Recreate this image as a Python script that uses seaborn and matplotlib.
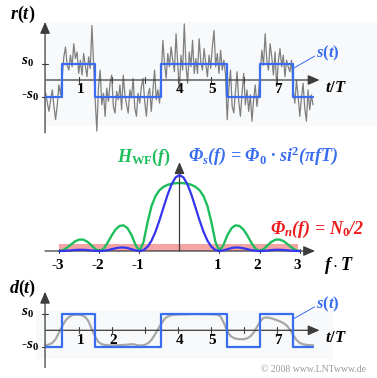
import numpy as np
import matplotlib
matplotlib.use("Agg")
import matplotlib.pyplot as plt
from matplotlib.patches import Rectangle
import seaborn as sns

# --- data ----------------------------------------------------------------
# s(t): bit boundaries (in T) and levels (in s0)
bit_edges = [0.0, 0.5, 1.5, 3.5, 5.5, 6.5, 7.5, 8.1]
bit_values = [-1, 1, -1, 1, -1, 1, -1]

# r(t) = s(t) + noise, sampled every 0.05 T
r_values = [
    -0.8, -1.4, -1.9, -1.2, -0.6, -1.6, -2.4, -1.5, -0.3, -0.9,
    0.2, 1.4, 2.0, 0.9, 0.6, 1.5, 0.8, 2.2, 1.3, 1.7,
    0.4, 1.2, 0.3, 1.6, 0.9, 0.2, 1.4, 0.7, 3.3, 1.0,
    -1.2, -3.1, -0.4, 0.6, -1.5, -0.8, -2.2, -0.5, -1.3, -0.2,
    0.3, -1.6, -2.0, -0.7, -1.2, -0.3, -1.8, 0.3, -0.9, -1.5,
    -2.0, -0.6, -1.1, 0.1, -1.7, -2.2, -0.8, -1.4, -0.4, 0.1,
    -1.3, -2.2, -0.9, -0.5, -1.9, -0.6, 0.6, -1.2, -0.6, -1.4,
    0.3, 2.4, 1.0, 0.1, 1.6, 0.8, 2.0, 1.2, 0.5, 2.8,
    1.0, -0.6, 1.5, 0.6, 3.4, 0.9, -0.2, 1.7, 0.8, 2.4,
    0.4, 1.3, 0.4, 2.5, 1.1, 0.6, 1.9, 1.0, 0.2, 1.5,
    0.7, 2.0, 3.0, 0.8, 1.6, 0.4, 1.8, 0.6, 1.2, 0.3,
    -2.4, -0.5, 0.6, -1.6, -2.0, -0.7, 0.5, -1.3, -2.2, -0.8,
    0.4, -1.5, -0.6, -1.9, -0.9, -2.5, -1.2, -0.3, -1.6, -0.8,
    0.5, 1.8, 0.9, 2.8, 1.2, 0.6, 2.2, 1.4, 0.3, 1.7,
    -0.4, 1.1, 1.9, 0.8, 1.5, 0.2, 1.2, 0.8, 0.5, 1.2,
    -0.6, -1.4, 0.0, -1.0, -2.2, -1.1, -0.2, -1.7, -2.5, -0.6,
    -1.8, -0.9, -1.5]

# d(t) after the Wiener filter, sampled every 0.1 T
d_values = [
    -0.92, -0.88, -0.78, -0.55, -0.15, 0.25, 0.60, 0.82, 0.93, 0.96,
    0.96, 0.92, 0.82, 0.55, 0.05, -0.40, -0.72, -0.86, -0.90, -0.92,
    -0.93, -0.93, -0.92, -0.91, -0.90, -0.88, -0.86, -0.88, -0.92, -0.94,
    -0.90, -0.80, -0.60, -0.30, 0.05, 0.40, 0.70, 0.86, 0.93, 0.96,
    0.97, 0.98, 0.98, 0.99, 1.00, 1.00, 1.00, 1.00, 1.00, 0.99,
    0.99, 0.98, 0.97, 0.85, 0.45, -0.05, -0.35, -0.48, -0.53, -0.55,
    -0.55, -0.50, -0.38, -0.15, 0.20, 0.55, 0.76, 0.80, 0.76, 0.70,
    0.63, 0.55, 0.45, 0.30, 0.05, -0.30, -0.60, -0.78, -0.86, -0.90,
    -0.92, -0.92]

# spectra for f*T = 0, 0.1, ..., 3 (symmetric in f)
phi_s_half = [1.0, 0.967, 0.875, 0.737, 0.573, 0.405, 0.255, 0.135, 0.055, 0.012,
              0.0, 0.008, 0.024, 0.039, 0.047, 0.045, 0.036, 0.023, 0.011, 0.003,
              0.0, 0.002, 0.007, 0.012, 0.016, 0.016, 0.014, 0.009, 0.005, 0.001, 0.0]
h_wf_half = [0.895, 0.892, 0.885, 0.870, 0.844, 0.800, 0.723, 0.590, 0.373, 0.116,
             0.0, 0.081, 0.211, 0.300, 0.338, 0.329, 0.282, 0.201, 0.106, 0.029,
             0.0, 0.024, 0.074, 0.121, 0.149, 0.151, 0.130, 0.091, 0.047, 0.013, 0.0]
phi_n_level = 0.09
phi_n_range = [-3.0, 2.95]

t_ticks = [1, 2, 3, 4, 5, 6, 7]
t_labels_top = {1: "1", 4: "4", 5: "5", 7: "7"}
t_labels_bottom = {1: "1", 2: "2", 4: "4", 5: "5", 7: "7"}
f_ticks = [-3, -2, -1, 1, 2, 3]

# --- style -----------------------------------------------------------------
sns.set_theme(style="white")
plt.rcParams.update({
    "font.family": ["Liberation Serif", "DejaVu Serif"],
    "font.weight": "bold",
    "mathtext.fontset": "custom",
    "mathtext.rm": "Liberation Serif:bold",
    "mathtext.it": "Liberation Serif:italic:bold",
    "mathtext.bf": "Liberation Serif:bold",
})

AXC = "#3c3c3c"
BLUE_S = "#3a6cf0"
BLUE_PHI = "#3535ee"
GREEN = "#1fbe5c"
RED = "#ee1c1c"
GRAY_N = "#6a6a6a"
GRAY_D = "#a8a8a8"

W, H = 377, 378
fig = plt.figure(figsize=(W / 100, H / 100), dpi=100)


def pix_axes(x0, y0, x1, y1, xo, xs, yo, ys):
    # axes covering a pixel box, data origin at (xo, yo), xs/ys pixels per unit
    ax = fig.add_axes([x0 / W, 1 - y1 / H, (x1 - x0) / W, (y1 - y0) / H])
    ax.set_xlim((x0 - xo) / xs, (x1 - xo) / xs)
    ax.set_ylim((yo - y1) / ys, (yo - y0) / ys)
    ax.axis("off")
    return ax


def arrow(ax, x0, y0, x1, y1):
    ax.annotate("", xy=(x1, y1), xytext=(x0, y0),
                arrowprops=dict(arrowstyle="-|>,head_length=0.7,head_width=0.3",
                                color=AXC, lw=0.9, shrinkA=0, shrinkB=0,
                                mutation_scale=10))


def step_xy(edges, vals):
    xs, ys = [], []
    for i, v in enumerate(vals):
        xs += [edges[i], edges[i + 1]]
        ys += [v, v]
    return xs, ys


def time_panel(ax, labels, y_lo, y_hi, bg):
    ax.add_patch(Rectangle(bg[0], bg[1], bg[2], color="#f7f9fb", lw=0, zorder=0))
    arrow(ax, 0.0, 0, 8.3, 0)
    arrow(ax, -0.02, y_lo, -0.02, y_hi)
    for tk in t_ticks:
        ax.plot([tk, tk], [-0.18, 0.18], color=AXC, lw=0.8)
    for lv in (1, -1):
        ax.plot([-0.12, 0.08], [lv, lv], color=AXC, lw=0.8)
    for tk, lab in labels.items():
        ax.text(tk + 0.05, -0.6, lab, ha="center", va="center", fontsize=11, color="black")
    ax.text(-0.35, 1.05, "$s_0$", ha="right", va="center", fontsize=11, color="black")
    ax.text(-0.2, -1.0, "-$s_0$", ha="right", va="center", fontsize=11, color="black")
    ax.text(8.8, -0.5, "$t/T$", ha="center", va="center", fontsize=12, color="black")
    sx, sy = step_xy(bit_edges, bit_values)
    sns.lineplot(x=sx, y=sy, ax=ax, color=BLUE_S, lw=1.6, estimator=None, sort=False, zorder=4)
    ax.plot([7.5, 8.15], [0.7, 1.45], color=BLUE_S, lw=0.7)
    ax.text(8.55, 1.6, "$s(t)$", ha="center", va="center", fontsize=12, color=BLUE_S)


# --- top: r(t) ---------------------------------------------------------------
ax1 = pix_axes(0, 0, W, 140, 45.7, 33.0, 80.0, 16.5)
t_r = np.round(np.arange(len(r_values)) * 0.05, 2)
sns.lineplot(x=t_r, y=r_values, ax=ax1, color=GRAY_N, lw=0.9, alpha=0.85, zorder=3)
time_panel(ax1, t_labels_top, -3.2, 3.52, ((-0.05, -2.8), 10.5, 6.3))
ax1.text(-0.7, 3.95, "$r(t)$", ha="center", va="center", fontsize=13, color="black")

# --- middle: spectra ---------------------------------------------------------
ax2 = pix_axes(0, 140, W, 280, 179.5, 40.0, 251.0, 76.0)
f_half = np.round(np.arange(len(phi_s_half)) * 0.1, 1)
f_all = np.concatenate([-f_half[::-1], f_half[1:]])
phi_s = phi_s_half[::-1] + phi_s_half[1:]
h_wf = h_wf_half[::-1] + h_wf_half[1:]
ax2.fill_between(phi_n_range, 0, phi_n_level, color="#f5a3a3", lw=0, zorder=1)
sns.lineplot(x=f_all, y=h_wf, ax=ax2, color=GREEN, lw=1.7, zorder=3)
sns.lineplot(x=f_all, y=phi_s, ax=ax2, color=BLUE_PHI, lw=1.6, zorder=4)
arrow(ax2, -3.36, 0, 3.39, 0)
arrow(ax2, 0, 0, 0, 1.17)
for fk in f_ticks:
    ax2.plot([fk, fk], [-0.03, 0.03], color=AXC, lw=0.8)
    ax2.text(fk - 0.05, -0.19, str(fk), ha="center", va="center", fontsize=11, color="black")
ax2.text(4.0, -0.19, r"$f \cdot T$", ha="center", va="center", fontsize=13, color="black")
ax2.text(-0.2, 1.23, r"$H_{\mathrm{WF}}(f)$", ha="right", va="center", fontsize=13, color=GREEN)
ax2.text(0.22, 1.26, "Φ$_s$(f) = Φ$_0$ · si$^2$(πfT)", ha="left", va="center",
         fontsize=13, style="italic", color=BLUE_S)
ax2.text(4.62, 0.28, "Φ$_n$(f) = N$_0$/2", ha="right", va="center",
         fontsize=13, style="italic", color=RED)

# --- bottom: d(t) ------------------------------------------------------------
ax3 = pix_axes(0, 278, W, H, 45.7, 33.0, 330.3, 16.2)
t_d = np.round(np.arange(len(d_values)) * 0.1, 1)
sns.lineplot(x=t_d, y=d_values, ax=ax3, color=GRAY_D, lw=1.6, zorder=3)
time_panel(ax3, t_labels_bottom, -2.3, 2.38, ((-0.3, -1.8), 9.0, 3.0))
ax3.text(-0.7, 2.6, "$d(t)$", ha="center", va="center", fontsize=13, color="black")

fig.text(366 / W, 1 - 369 / H, "© 2008 www.LNTwww.de", ha="right", va="center",
         fontsize=7, fontweight="normal", color="#9a9a9a")

fig.savefig("out.png", dpi=100)
